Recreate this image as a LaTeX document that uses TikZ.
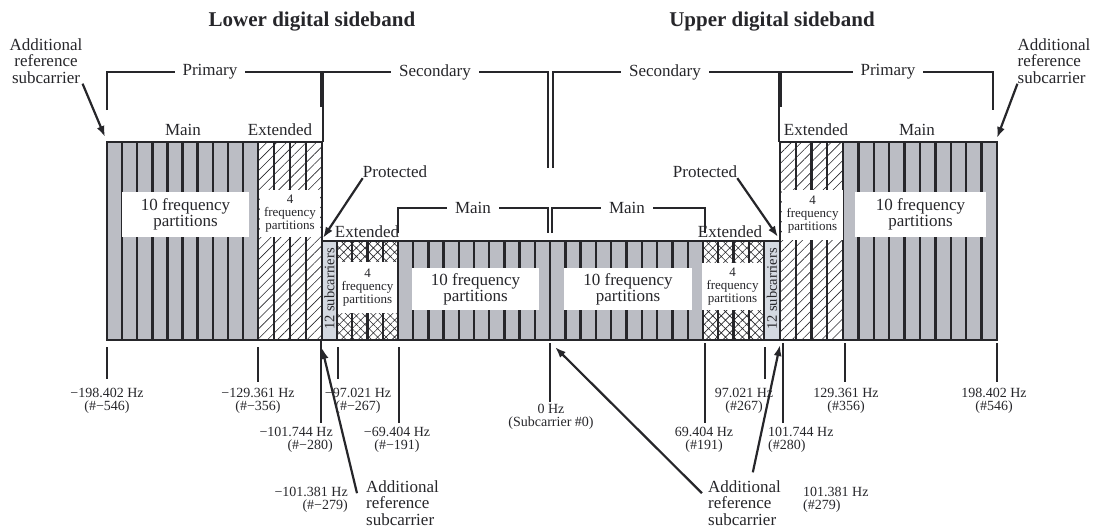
\documentclass[tikz,border=0pt]{standalone}
\usepackage{fontspec}
\setmainfont{Liberation Serif}
\usetikzlibrary{arrows.meta,patterns.meta}

\definecolor{bandgray}{RGB}{187,189,196}
\definecolor{protgray}{RGB}{212,217,225}
\definecolor{inkgray}{RGB}{38,38,42}

\begin{document}
\begin{tikzpicture}[x=1pt, y=-1pt,
    every node/.style={font=\fontsize{17}{17}\selectfont, text=inkgray, inner sep=0pt},
    title/.style={font=\fontsize{21}{21}\selectfont\bfseries},
    brace/.style={line width=2.6pt, draw=inkgray},
    bracelabel/.style={fill=white, inner xsep=8pt, inner ysep=2pt},
    part/.style={line width=2.4pt, draw=inkgray},
    outline/.style={line width=2.6pt, draw=inkgray},
    bigbox/.style={fill=white, align=center, font=\fontsize{17}{16}\selectfont},
    smallbox/.style={fill=white, align=center, font=\fontsize{13}{13}\selectfont},
    subc/.style={rotate=90, font=\fontsize{14.5}{14.5}\selectfont},
    addlabel/.style={font=\fontsize{17}{16.5}\selectfont},
    freq/.style={align=center, font=\fontsize{14}{13}\selectfont},
    tick/.style={line width=2.6pt, draw=inkgray},
    pointer/.style={-{Latex[length=11pt,width=8pt]}, line width=2.2pt, draw=inkgray},
    hatch/.style={pattern={Lines[angle=45,distance=7pt,line width=0.6pt]}, pattern color=inkgray},
    cross/.style={pattern={Hatch[angle=45,distance=6pt,line width=0.6pt]}, pattern color=inkgray}
  ]
    \useasboundingbox (0,0) rectangle (1094,528);

    % band fills
    \fill[bandgray] (107,142) rectangle (258,340);
    \fill[hatch] (258,142) rectangle (322,340);
    \fill[protgray] (322,241) rectangle (337,340);
    \fill[cross] (337,241) rectangle (398,340);
    \fill[bandgray] (398,241) rectangle (703,340);
    \fill[cross] (703,241) rectangle (764,340);
    \fill[protgray] (764,241) rectangle (780,340);
    \fill[hatch] (780,142) rectangle (843,340);
    \fill[bandgray] (843,142) rectangle (997,340);

    % partitions
    \foreach \i in {1,...,10} \draw[part] ({107+\i*15.1},142) -- ++(0,198);
    \foreach \i in {1,2,3} \draw[part] ({258+\i*16},142) -- ++(0,198);
    \foreach \i in {1,2,3} \draw[part] ({337+\i*15.25},241) -- ++(0,99);
    \foreach \i in {0,...,10} \draw[part] ({398+\i*15.2},241) -- ++(0,99);
    \foreach \i in {1,...,10} \draw[part] ({550+\i*15.3},241) -- ++(0,99);
    \foreach \i in {1,2,3} \draw[part] ({703+\i*15.25},241) -- ++(0,99);
    \foreach \i in {1,2,3} \draw[part] ({780+\i*15.75},142) -- ++(0,198);
    \foreach \i in {0,...,9} \draw[part] ({843+\i*15.4},142) -- ++(0,198);
    \draw[part, line width=1.6pt] (337,241) -- (337,340);
    \draw[part, line width=1.6pt] (764,241) -- (764,340);
    \draw[part] (322,142) -- (322,340);
    \draw[part] (780,142) -- (780,340);
    \draw[outline] (107,142) -- (322,142) -- (322,241) -- (780,241) -- (780,142)
      -- (997,142) -- (997,340) -- (107,340) -- cycle;

    % partition captions
    \node[bigbox, minimum width=127pt, minimum height=45pt] (lopart) at (185.5,214.5) {10 frequency\\partitions};
    \node[smallbox, minimum width=60pt, minimum height=47pt] (loextpart) at (290,213.5) {4\\frequency\\partitions};
    \node[smallbox, minimum width=59pt, minimum height=51pt] (lsextpart) at (367.5,287.5) {4\\frequency\\partitions};
    \node[bigbox, minimum width=127pt, minimum height=42pt] (lspart) at (475.5,289) {10 frequency\\partitions};
    \node[bigbox, minimum width=128pt, minimum height=42pt] (uspart) at (628,289) {10 frequency\\partitions};
    \node[smallbox, minimum width=61pt, minimum height=47pt] (usextpart) at (732.5,286.5) {4\\frequency\\partitions};
    \node[smallbox, minimum width=61pt, minimum height=50pt] (upextpart) at (812.5,215) {4\\frequency\\partitions};
    \node[bigbox, minimum width=131pt, minimum height=45pt] (uppart) at (920.5,214.5) {10 frequency\\partitions};
    \node[subc] (losub) at (329.5,289) {12 subcarriers};
    \node[subc] (upsub) at (772,289) {12 subcarriers};

    % band names
    \node (lomain) at (183,130) {Main};
    \node (loext) at (280,130) {Extended};
    \node (upext) at (816,130) {Extended};
    \node (upmain) at (917,130) {Main};
    \node (lsext) at (367,232) {Extended};
    \node (usext) at (730,232) {Extended};

    % brackets
    \draw[brace] (107,110) -- (107,72) -- (321,72) -- (321,107);
    \node[bracelabel] (loprim) at (210,72) {Primary};
    \draw[brace] (323,142) -- (323,72) -- (548,72) -- (548,168);
    \node[bracelabel] (losec) at (435,72) {Secondary};
    \draw[brace] (553,168) -- (553,72) -- (779,72) -- (779,142);
    \node[bracelabel] (upsec) at (665,72) {Secondary};
    \draw[brace] (781,107) -- (781,72) -- (993,72) -- (993,110);
    \node[bracelabel] (upprim) at (888,72) {Primary};
    \draw[brace] (398,233) -- (398,208) -- (548,208) -- (548,233);
    \node[bracelabel] (lsmain) at (473,208) {Main};
    \draw[brace] (552,233) -- (552,208) -- (705,208) -- (705,233);
    \node[bracelabel] (usmain) at (627,208) {Main};

    \node[title] (lotitle) at (312,22) {Lower digital sideband};
    \node[title] (uptitle) at (772,22) {Upper digital sideband};

    % reference subcarriers and protected bands
    \node[addlabel, align=center] (addtl) at (46,61) {Additional\\reference\\subcarrier};
    \node[addlabel, align=left] (addtr) at (1054,61) {Additional\\reference\\subcarrier};
    \coordinate (reftl) at (105,137);
    \coordinate (reftr) at (997,138);
    \draw[pointer] (addtl.south east) -- (reftl);
    \draw[pointer] (addtr.south west) -- (reftr);

    \node (protl) at (395,172) {Protected};
    \node (protu) at (705,172) {Protected};
    \coordinate (protltip) at (323,238);
    \coordinate (protutip) at (778,237);
    \draw[pointer] (protl.south west) -- (protltip);
    \draw[pointer] (protu.south east) -- (protutip);

    % frequency ticks
    \draw[tick] (107,347) -- (107,379);
    \draw[tick] (258,347) -- (258,382);
    \draw[tick] (321,340) -- (321,423);
    \draw[tick] (338,347) -- (338,379);
    \draw[tick] (399,347) -- (399,423);
    \draw[tick] (550,343) -- (550,402);
    \draw[tick] (705,343) -- (705,423);
    \draw[tick] (765,347) -- (765,379);
    \draw[tick] (783,343) -- (783,423);
    \draw[tick] (845,343) -- (845,382);
    \draw[tick] (997,343) -- (997,382);

    \node[freq] (f1) at (107,401) {−198.402 Hz\\(\#−546)};
    \node[freq] (f2) at (258,401) {−129.361 Hz\\(\#−356)};
    \node[freq] (f3) at (358,401) {−97.021 Hz\\(\#−267)};
    \node[freq, align=right, anchor=east] (f4) at (333,440) {−101.744 Hz\\(\#−280)};
    \node[freq] (f5) at (397,440) {−69.404 Hz\\(\#−191)};
    \node[freq, align=right, anchor=east] (f6) at (348,500) {−101.381 Hz\\(\#−279)};
    \node[freq] (f0) at (551,417) {0 Hz\\(Subcarrier \#0)};
    \node[freq] (f7) at (704,440) {69.404 Hz\\(\#191)};
    \node[freq] (f8) at (744,401) {97.021 Hz\\(\#267)};
    \node[freq, align=left, anchor=west] (f9) at (768,440) {101.744 Hz\\(\#280)};
    \node[freq] (f10) at (846,401) {129.361 Hz\\(\#356)};
    \node[freq] (f11) at (994,401) {198.402 Hz\\(\#546)};
    \node[freq, align=left, anchor=west] (f12) at (803,500) {101.381 Hz\\(\#279)};

    \node[addlabel, align=left, anchor=west] (addbl) at (366,503) {Additional\\reference\\subcarrier};
    \node[addlabel, align=left, anchor=west] (addbr) at (708,503) {Additional\\reference\\subcarrier};
    \coordinate (refbl) at (322,348);
    \coordinate (refb0) at (555,347);
    \coordinate (refbr) at (780,345);
    \draw[pointer] ([xshift=-9pt]addbl.165) -- (refbl);
    \draw[pointer] ([xshift=-6pt]addbr.165) -- (refb0);
    \draw[pointer] ([yshift=8pt]addbr.70) -- (refbr);
  \end{tikzpicture}
\end{document}
